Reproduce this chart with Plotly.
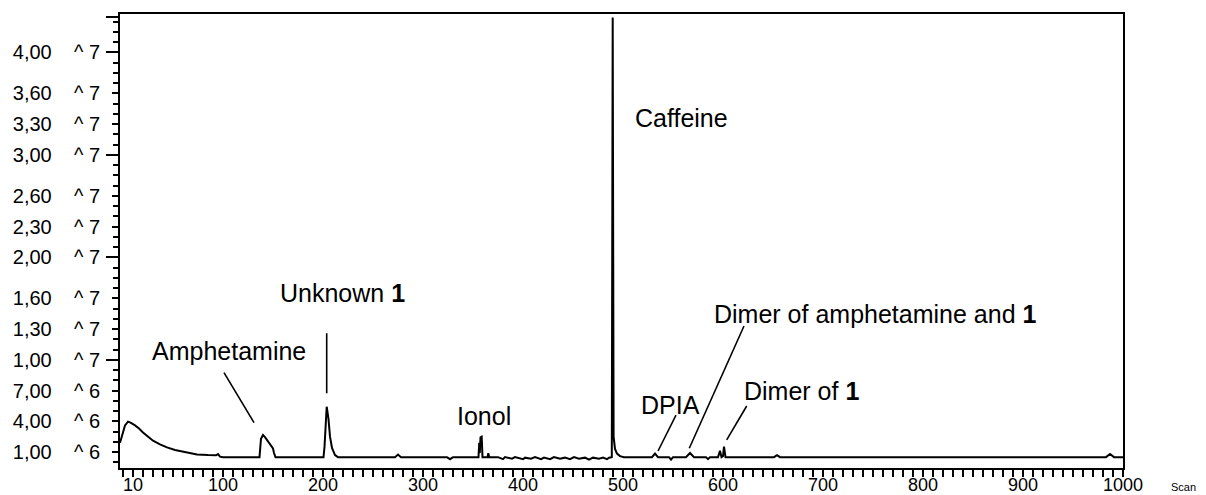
import plotly.graph_objects as go

# ---------------- data ----------------
scan = [-3, 0, 2, 5, 8, 12, 16, 20, 25, 30, 37, 44, 52, 60, 68, 74, 85, 93, 95, 97, 100,
        136.5, 138, 140, 142, 145, 148, 150, 151, 152.5,
        200.5, 201.5, 203.7, 205.5, 207, 209, 212, 215,
        272, 275, 278, 324, 327, 330,
        355.5, 356.2, 356.8, 357.5, 358.7, 359.5, 364.5, 365.3, 366.2,
        375, 380, 382, 389, 392, 400, 402, 408, 412, 418, 421, 427, 431, 437, 442, 447,
        451, 456, 462, 466, 470, 476, 480, 484, 486,
        488.8, 489.7, 490.6, 492, 494, 497, 501,
        529, 532, 535, 546, 548, 550, 563, 567, 571, 583, 585, 587,
        595, 597, 598.5, 600, 601, 602.5, 651, 654, 657, 983, 987, 991, 1000]
intensity_e6 = [1.9, 2.9, 3.6, 3.96, 3.85, 3.6, 3.3, 2.9, 2.45, 2.1, 1.75, 1.45, 1.2, 1.05, 0.9, 0.75, 0.7, 0.68, 0.8, 0.55, 0.5,
                0.5, 2.3, 2.66, 2.45, 2.05, 1.6, 1.35, 0.9, 0.5,
                0.5, 1.5, 5.42, 4.2, 2.5, 1.4, 0.7, 0.5,
                0.5, 0.75, 0.5, 0.5, 0.3, 0.5,
                0.5, 1.9, 0.9, 2.44, 2.5, 0.5, 0.5, 0.88, 0.5,
                0.5, 0.3, 0.5, 0.35, 0.5, 0.3, 0.45, 0.35, 0.5, 0.3, 0.45, 0.3, 0.5, 0.35, 0.45, 0.3,
                0.5, 0.35, 0.45, 0.25, 0.45, 0.35, 0.45, 0.3, 0.45,
                0.5, 43.4, 2.5, 1.3, 0.85, 0.6, 0.5,
                0.5, 0.85, 0.5, 0.5, 0.25, 0.5, 0.5, 0.9, 0.5, 0.5, 0.3, 0.5,
                0.5, 1.13, 0.5, 0.6, 1.52, 0.5, 0.5, 0.7, 0.5, 0.5, 0.8, 0.5, 0.5]

x_tick_vals = [10, 100, 200, 300, 400, 500, 600, 700, 800, 900, 1000]
x_tick_text = ["10", "100", "200", "300", "400", "500", "600", "700", "800", "900", "1000"]

y_tick_vals = [1e6, 4e6, 7e6, 1e7, 1.3e7, 1.6e7, 2e7, 2.3e7, 2.6e7, 3e7, 3.3e7, 3.6e7, 4e7]
y_mantissa = ["1,00", "4,00", "7,00", "1,00", "1,30", "1,60", "2,00", "2,30", "2,60", "3,00", "3,30", "3,60", "4,00"]
y_exponent = ["6", "6", "6", "7", "7", "7", "7", "7", "7", "7", "7", "7", "7"]
y_long_ticks = [1e7, 2e7, 3e7, 4e7, 4.34e7]

# labels: text, x (scan), y (intensity), x-anchor
label_text = ["Caffeine", "Unknown <b>1</b>", "Amphetamine", "Ionol", "DPIA",
              "Dimer of amphetamine and <b>1</b>", "Dimer of <b>1</b>"]
label_x = [510, 155.3, 27, 332, 579, 588.7, 618.7]
label_y_e6 = [33.6, 16.5, 10.9, 4.52, 5.59, 14.47, 6.96]
label_anchor = ["left", "left", "left", "left", "right", "left", "left"]

# pointer lines: (x0, y0, x1, y1) in scan / 1e6 units
pointer_x0 = [101, 203.7, 553, 621, 623.7]
pointer_y0_e6 = [8.74, 12.59, 4.6, 13.3, 5.49]
pointer_x1 = [131, 203.7, 535, 566.3, 603.7]
pointer_y1_e6 = [3.86, 6.73, 1.1, 1.37, 2.18]

# ---------------- figure ----------------
FONT = "Liberation Sans, Arial, sans-serif"
NB = "\u00a0"

fig = go.Figure()
fig.add_trace(go.Scatter(x=scan, y=[v * 1e6 for v in intensity_e6], mode="lines",
                         line=dict(color="black", width=2), hoverinfo="skip", showlegend=False))
fig.add_trace(go.Scatter(x=[], y=[], yaxis="y2", showlegend=False, hoverinfo="skip"))

for xa, ya, xb, yb in zip(pointer_x0, pointer_y0_e6, pointer_x1, pointer_y1_e6):
    fig.add_shape(type="line", xref="x", yref="y", x0=xa, y0=ya * 1e6, x1=xb, y1=yb * 1e6,
                  line=dict(color="black", width=1.6))

for t, lx, ly, anc in zip(label_text, label_x, label_y_e6, label_anchor):
    fig.add_annotation(text=t, x=lx, y=ly * 1e6, xref="x", yref="y", showarrow=False,
                       xanchor=anc, yanchor="middle", font=dict(family=FONT, size=25, color="black"))

fig.add_annotation(text="Scan", x=1.06, y=-0.042, xref="paper", yref="paper", showarrow=False,
                   xanchor="center", yanchor="middle", font=dict(family=FONT, size=11, color="black"))

y_tick_text = [m + NB * 4 + "^ " + e for m, e in zip(y_mantissa, y_exponent)]

fig.update_layout(
    width=1206, height=495,
    margin=dict(l=120, r=83, t=14, b=27, autoexpand=False),
    paper_bgcolor="white", plot_bgcolor="white",
    font=dict(family=FONT, color="black"),
    xaxis=dict(range=[-3, 1000], showgrid=False, zeroline=False, automargin=False,
               showline=True, linecolor="black", linewidth=2, mirror=True,
               ticks="outside", ticklen=7, tickwidth=1.5, tickcolor="black",
               tickvals=x_tick_vals, ticktext=x_tick_text, ticklabelstandoff=-8,
               tickfont=dict(family=FONT, size=18, color="black"),
               minor=dict(dtick=10, tick0=0, ticks="outside", ticklen=7, tickwidth=1.5, tickcolor="black")),
    yaxis=dict(range=[-0.56e6, 43.74e6], showgrid=False, zeroline=False, automargin=False,
               showline=True, linecolor="black", linewidth=2, mirror=True,
               ticks="outside", ticklen=6, tickwidth=2, tickcolor="black",
               tickvals=y_tick_vals, ticktext=y_tick_text, ticklabelstandoff=8,
               tickfont=dict(family=FONT, size=20, color="black"),
               minor=dict(dtick=1e6, tick0=0, ticks="outside", ticklen=5, tickwidth=2, tickcolor="black")),
    yaxis2=dict(overlaying="y", matches="y", side="left", showgrid=False, zeroline=False,
                automargin=False,
                showline=False, showticklabels=False, ticks="outside", ticklen=13, tickwidth=2,
                tickcolor="black", tickvals=y_long_ticks),
)

fig.write_html("out.html")
